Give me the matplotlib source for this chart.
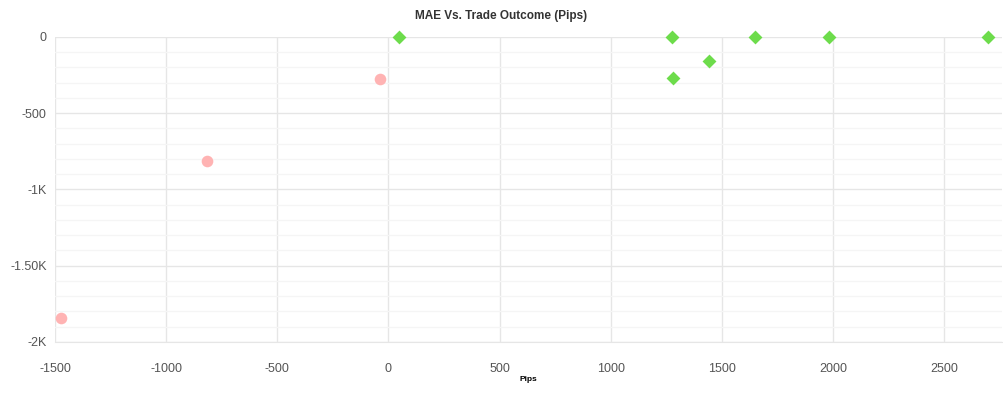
import matplotlib
matplotlib.use("Agg")
import matplotlib.pyplot as plt
from matplotlib.ticker import MultipleLocator

plt.rcParams['font.family'] = ['Liberation Sans', 'DejaVu Sans']
plt.rcParams['axes.unicode_minus'] = False

# losing trades (pips outcome, MAE)
loss_pips = [-1473, -816, -37]
loss_mae = [-1844, -814, -276]

# winning trades
win_pips = [48, 1277, 1280, 1443, 1650, 1981, 2699]
win_mae = [0, 0, -267, -156, 0, 0, 0]

x_ticks = [-1500, -1000, -500, 0, 500, 1000, 1500, 2000, 2500]
y_ticks = [0, -500, -1000, -1500, -2000]
y_labels = ['0', '-500', '-1K', '-1.50K', '-2K']

fig = plt.figure(figsize=(10.04, 3.99), dpi=100)
ax = fig.add_axes([0.0548, 0.1429, 0.9432, 0.7644])

ax.scatter(loss_pips, loss_mae, s=70, marker='o', color='#ffb3b3', zorder=3,
           linewidths=0, clip_on=False)
ax.scatter(win_pips, win_mae, s=50, marker='D', color='#6ddc4b', zorder=3,
           linewidths=0, clip_on=False)

ax.set_xlim(-1500, 2760)
ax.set_ylim(-2000, 0)
ax.set_xticks(x_ticks)
ax.set_yticks(y_ticks)
ax.set_yticklabels(y_labels)
ax.yaxis.set_minor_locator(MultipleLocator(100))

ax.grid(True, which='major', color='#e6e6e6', linewidth=1)
ax.grid(True, which='minor', axis='y', color='#f5f5f5', linewidth=1)
ax.set_axisbelow(True)
for s in ['top', 'right', 'left']:
    ax.spines[s].set_visible(False)
ax.spines['bottom'].set_color('#e6e6e6')
ax.tick_params(axis='both', which='both', length=0, labelsize=9, labelcolor='#555555')
ax.tick_params(axis='x', pad=15)
ax.tick_params(axis='y', pad=6)

ax.set_title('MAE Vs. Trade Outcome (Pips)', fontsize=8.5, fontweight='bold',
             color='#333333', pad=13, x=0.471)
ax.set_xlabel('Pips', fontsize=6, fontweight='bold', color='black', labelpad=1)

fig.savefig('out.png', dpi=100)
